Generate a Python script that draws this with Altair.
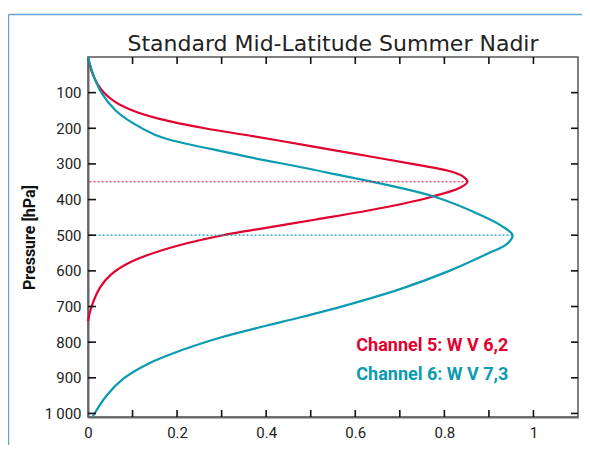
import altair as alt
import pandas as pd

# ---- data ----
ch5_p = [0, 40, 73, 100, 125, 150, 175, 200, 222, 250, 269, 302, 320, 336, 350,
         366, 392, 423, 456, 487, 500, 528, 557, 582, 610, 645, 700, 741]
ch5_w = [0, 0.008, 0.02, 0.036, 0.06, 0.1, 0.165, 0.262, 0.37, 0.5, 0.587, 0.737,
         0.811, 0.843, 0.852, 0.836, 0.772, 0.662, 0.512, 0.362, 0.303, 0.205,
         0.131, 0.085, 0.052, 0.028, 0.008, 0]

ch6_p = [0, 50, 100, 150, 185, 218, 232, 269, 281, 325, 392, 446, 475, 500, 525,
         550, 600, 652, 694, 731, 754, 787, 825, 862, 904, 951, 1008]
ch6_w = [0, 0.012, 0.03, 0.062, 0.1, 0.15, 0.183, 0.318, 0.362, 0.54, 0.778,
         0.886, 0.93, 0.953, 0.94, 0.90, 0.811, 0.699, 0.587, 0.475, 0.40, 0.298,
         0.205, 0.133, 0.078, 0.041, 0.011]

channels = ["Channel 5: W V 6,2", "Channel 6: W V 7,3"]
peak_p = [350, 500]
peak_w = [0.852, 0.953]
label_x = [0.773, 0.773]
label_p = [812, 893]

x_ticks = [0.1, 0.2, 0.3, 0.4, 0.5, 0.6, 0.7, 0.8, 0.9, 1.0]
x_labels = [0, 0.2, 0.4, 0.6, 0.8, 1.0]
y_ticks = [100, 200, 300, 400, 500, 600, 700, 800, 900, 1000]

RED = "#e2002f"
TEAL = "#0a9bb0"
NARROW = "Roboto, Liberation Sans, sans-serif"

W, H = 490, 360

curves = pd.concat([
    pd.DataFrame({"p": ch5_p, "w": ch5_w, "ch": channels[0], "i": range(len(ch5_p))}),
    pd.DataFrame({"p": ch6_p, "w": ch6_w, "ch": channels[1], "i": range(len(ch6_p))}),
])
peaks = pd.DataFrame({"p": peak_p, "w": peak_w, "ch": channels, "lx": label_x, "lp": label_p})
xt = pd.DataFrame({"x": x_ticks})
yt = pd.DataFrame({"y": y_ticks})

xscale = alt.Scale(domain=[0, 1.1], nice=False, zero=False)
yscale = alt.Scale(domain=[0, 1010], nice=False, reverse=True)
cscale = alt.Scale(domain=channels, range=[RED, TEAL])

xaxis = alt.Axis(values=x_labels, format="~g", ticks=False, grid=False,
                 domainColor="#666", domainWidth=2, labelFont=NARROW,
                 labelFontSize=15, labelColor="#222", labelPadding=8,
                 labelFlush=False, labelOverlap=False, title=None)
yaxis = alt.Axis(values=y_ticks, ticks=False, grid=False, domainColor="#666",
                 domainWidth=2, labelFont=NARROW, labelFontSize=15,
                 labelColor="#222", labelPadding=7, labelOverlap=False,
                 labelExpr="datum.value == 1000 ? '1\u2009000' : datum.label",
                 title="Pressure [hPa]", titleFont=NARROW, titleFontSize=16,
                 titleFontWeight="bold", titleColor="#111", titlePadding=7)


def X(field):
    return alt.X(field, scale=xscale, axis=xaxis)


def Y(field):
    return alt.Y(field, scale=yscale, axis=yaxis)


lines = alt.Chart(curves).mark_line(strokeWidth=2.2, interpolate="catmull-rom").encode(
    x=X("w:Q"), y=Y("p:Q"),
    color=alt.Color("ch:N", scale=cscale, legend=None),
    order="i:Q",
)

dotted = alt.Chart(peaks).mark_rule(strokeWidth=1.2, strokeDash=[2, 2]).encode(
    x=X("w:Q"), x2=alt.value(0), y=Y("p:Q"),
    color=alt.Color("ch:N", scale=cscale, legend=None),
)

labels = alt.Chart(peaks).mark_text(font=NARROW, fontSize=18, fontWeight="bold",
                                    align="center", baseline="middle").encode(
    x=X("lx:Q"), y=Y("lp:Q"), text="ch:N",
    color=alt.Color("ch:N", scale=cscale, legend=None),
)

bottom_ticks = alt.Chart(xt).mark_rule(color="#111", strokeWidth=1.6).encode(
    x=X("x:Q"), y=alt.value(H), y2=alt.value(H - 7))
top_ticks = alt.Chart(xt).mark_rule(color="#111", strokeWidth=1.6).encode(
    x=X("x:Q"), y=alt.value(0), y2=alt.value(7))
left_ticks = alt.Chart(yt).mark_rule(color="#111", strokeWidth=1.6).encode(
    y=Y("y:Q"), x=alt.value(0), x2=alt.value(8))
right_ticks = alt.Chart(yt).mark_rule(color="#111", strokeWidth=1.6).encode(
    y=Y("y:Q"), x=alt.value(W), x2=alt.value(W - 7))

frame_src = alt.Data(values=[{"k": 1}])
frame_top = alt.Chart(frame_src).mark_rule(color="#6c9fd6", strokeWidth=1.5).encode(
    x=alt.value(-79.5), x2=alt.value(W + 20), y=alt.value(-42.5))
frame_left = alt.Chart(frame_src).mark_rule(color="#6c9fd6", strokeWidth=1.5).encode(
    x=alt.value(-79.5), y=alt.value(-42.5), y2=alt.value(H + 60))

chart = alt.layer(
    lines, frame_top, frame_left, dotted, labels,
    bottom_ticks, top_ticks, left_ticks, right_ticks,
).properties(
    width=W, height=H,
    autosize=alt.AutoSizeParams(type="none"),
    padding={"left": 80, "top": 49, "right": 4, "bottom": 28},
    title=alt.Title("Standard Mid-Latitude Summer Nadir", font="DejaVu Sans",
                    fontSize=22, fontWeight="normal", color="#222",
                    anchor="middle", frame="group", offset=-59,
                    baseline="alphabetic"),
).configure_view(stroke="#555", strokeWidth=1.5)

chart.save("out.html", embed_options={"renderer": "svg", "actions": False})
